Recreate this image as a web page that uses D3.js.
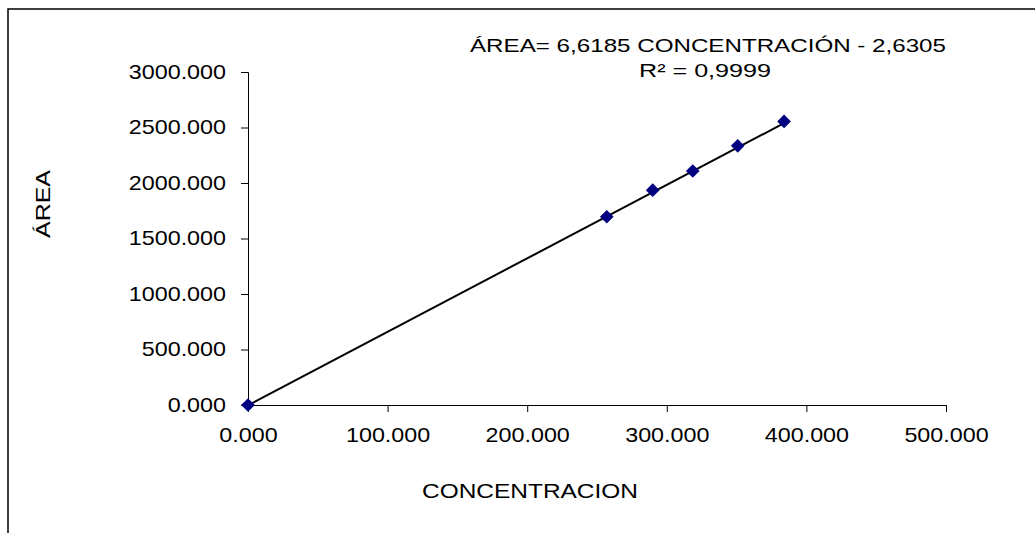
<!DOCTYPE html>
<html>
<head>
  <meta charset="utf-8">
  <script src="https://d3js.org/d3.v7.min.js"></script>
  <style>
    body { margin: 0; background: #fff; }
    svg text { font-family: "Liberation Sans", Arial, sans-serif; fill: #000; }
  </style>
</head>
<body>
<div id="chart"></div>
<script>
// data
const concentracion = [0, 257.0, 289.9, 318.6, 350.8, 384.0];
const area = [0, 1696, 1935, 2108, 2335, 2555];
const xTicks = [0, 100, 200, 300, 400, 500];
const yTicks = [0, 500, 1000, 1500, 2000, 2500, 3000];
const slope = 6.6185;
const intercept = -2.6305;
const eqText = "ÁREA= 6,6185 CONCENTRACIÓN - 2,6305";
const r2Text = "R² = 0,9999";

const width = 1035, height = 533;
const margin = {left: 248, right: 89, top: 72, bottom: 128};

const svg = d3.select("#chart").append("svg")
  .attr("width", width).attr("height", height);

// the text in the original is a bit wider than the font, so stretch it
function stretch(sel, k) {
  sel.each(function() {
    const w = this.getComputedTextLength();
    d3.select(this).attr("textLength", w * k).attr("lengthAdjust", "spacingAndGlyphs");
  });
}

// outer chart border (runs off the right and bottom edge)
svg.append("rect")
  .attr("x", 8).attr("y", 9)
  .attr("width", width + 20).attr("height", height + 20)
  .attr("fill", "none").attr("stroke", "#000").attr("stroke-width", 1.5);

const x = d3.scaleLinear().domain([0, 500]).range([margin.left, width - margin.right]);
const y = d3.scaleLinear().domain([0, 3000]).range([height - margin.bottom, margin.top]);

const fmt = d3.format(".3f");

const xAxis = svg.append("g")
  .attr("transform", `translate(0,${y(0)})`)
  .call(d3.axisBottom(x).tickValues(xTicks).tickFormat(fmt).tickSizeOuter(0).tickSize(7).tickPadding(15));
const yAxis = svg.append("g")
  .attr("transform", `translate(${x(0)},0)`)
  .call(d3.axisLeft(y).tickValues(yTicks).tickFormat(fmt).tickSizeOuter(0).tickSize(7).tickPadding(15));

[xAxis, yAxis].forEach(g => {
  g.selectAll("text").style("font-size", "21px").style("font-family", "'Liberation Sans', Arial, sans-serif");
  g.select(".domain").attr("stroke", "#000");
  g.selectAll(".tick line").attr("stroke", "#000");
  stretch(g.selectAll("text"), 1.11);
});
yAxis.selectAll("text").attr("dy", "0.3em");
xAxis.selectAll("text").attr("dy", "0.72em");

// trendline
const xMax = d3.max(concentracion);
svg.append("line")
  .attr("x1", x(0)).attr("y1", y(intercept))
  .attr("x2", x(xMax)).attr("y2", y(slope * xMax + intercept))
  .attr("stroke", "#000").attr("stroke-width", 2);

// points (diamonds)
const diamond = d3.symbol().type(d3.symbolDiamond2).size(120);
svg.append("g").selectAll("path")
  .data(concentracion.map((c, i) => [c, area[i]]))
  .join("path")
  .attr("d", diamond)
  .attr("transform", d => `translate(${x(d[0])},${y(d[1])})`)
  .attr("fill", "#000080");

// equation
svg.append("text").attr("x", 708).attr("y", 52).attr("text-anchor", "middle")
  .style("font-size", "19px").attr("textLength", 476).attr("lengthAdjust", "spacingAndGlyphs")
  .text(eqText);
svg.append("text").attr("x", 705).attr("y", 77).attr("text-anchor", "middle")
  .style("font-size", "19px").attr("textLength", 132).attr("lengthAdjust", "spacingAndGlyphs")
  .text(r2Text);

// axis titles
svg.append("text").attr("x", 530).attr("y", 498).attr("text-anchor", "middle")
  .style("font-size", "21px").attr("textLength", 216).attr("lengthAdjust", "spacingAndGlyphs")
  .text("CONCENTRACION");
svg.append("text").attr("transform", "translate(50,204) rotate(-90)").attr("text-anchor", "middle")
  .style("font-size", "21px").attr("textLength", 68).attr("lengthAdjust", "spacingAndGlyphs")
  .text("ÁREA");
</script>
</body>
</html>
